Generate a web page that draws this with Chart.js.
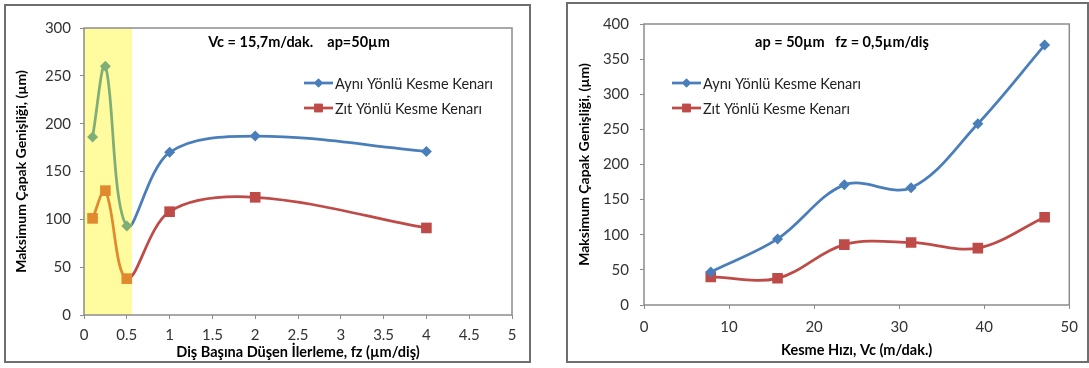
<!DOCTYPE html>
<html>
<head>
<meta charset="utf-8">
<script src="https://cdn.jsdelivr.net/npm/chart.js@4.4.1/dist/chart.umd.min.js"></script>
<style>
body{margin:0;background:#fff;width:1089px;height:368px;overflow:hidden;position:relative;font-family:Lato,sans-serif}
.frame{position:absolute;border:2px solid #6e6e6e;box-sizing:border-box;background:#fff}
#frame-feed{left:4px;top:4px;width:527px;height:359px}
#frame-speed{left:566px;top:2px;width:523px;height:361px}
canvas{display:block}
</style>
</head>
<body>
<div class="frame" id="frame-feed"><canvas id="feed-chart" width="523" height="355"></canvas></div>
<div class="frame" id="frame-speed"><canvas id="speed-chart" width="519" height="357"></canvas></div>
<script>
// left chart: fz (feed per tooth)
const feedRates = [0.1, 0.25, 0.5, 1, 2, 4]
const feedSame = [186, 260, 93, 170, 187, 171]
const feedOpp = [101, 130, 38, 108, 123, 91]
const feedTicksX = [0, 0.5, 1, 1.5, 2, 2.5, 3, 3.5, 4, 4.5, 5]
const feedTicksY = [0, 50, 100, 150, 200, 250, 300]
const feedBandEnd = 0.56

// right chart: Vc (cutting speed)
const speeds = [7.85, 15.7, 23.55, 31.4, 39.25, 47.1]
const speedSame = [47, 94, 171, 167, 258, 370]
const speedOpp = [40, 38, 86, 89, 81, 125]
const speedTicksX = [0, 10, 20, 30, 40, 50]
const speedTicksY = [0, 50, 100, 150, 200, 250, 300, 350, 400]

const seriesLabels = ['Aynı Yönlü Kesme Kenarı', 'Zıt Yönlü Kesme Kenarı']
const yTitle = 'Maksimum Çapak Genişliği, (µm)'

const BLUE = '#4a7ebb'
const RED = '#be4b48'
const GREEN = '#7fae77'
const ORANGE = '#e0892e'
const BAND = '#fffb9e'

function toPoints(xs, ys){
    return xs.map((x, i) => ({x: x, y: ys[i]}))
}

// line colour switches inside the yellow band
function bandLine(inside, outside){
    return function(ctx){
        const chart = ctx.chart
        const area = chart.chartArea
        const end = chart.options.plugins.band.to
        if(!area || end == null) return outside
        const px = chart.scales.x.getPixelForValue(end)
        let f = (px - area.left) / (area.right - area.left)
        f = Math.min(Math.max(f, 0), 1)
        const g = chart.ctx.createLinearGradient(area.left, 0, area.right, 0)
        g.addColorStop(0, inside)
        g.addColorStop(f, inside)
        g.addColorStop(f, outside)
        g.addColorStop(1, outside)
        return g
    }
}

function bandPoint(inside, outside){
    return function(ctx){
        const end = ctx.chart.options.plugins.band.to
        if(end != null && ctx.parsed && ctx.parsed.x < end) return inside
        return outside
    }
}

const bandPlugin = {
    id: 'band',
    beforeDatasetsDraw(chart, args, opts){
        const area = chart.chartArea
        const c = chart.ctx
        c.save()
        if(opts.to != null){
            const x0 = chart.scales.x.getPixelForValue(0)
            const x1 = chart.scales.x.getPixelForValue(opts.to)
            c.fillStyle = BAND
            c.fillRect(x0, area.top, x1 - x0, area.bottom - area.top)
        }
        c.strokeStyle = '#8c8c8c'
        c.lineWidth = 1.5
        c.strokeRect(area.left, area.top, area.right - area.left, area.bottom - area.top)
        c.restore()
    }
}

const notePlugin = {
    id: 'note',
    afterDraw(chart, args, opts){
        const c = chart.ctx
        c.save()
        c.font = 'bold 14.5px Lato, sans-serif'
        c.fillStyle = '#000'
        c.textAlign = 'center'
        c.textBaseline = 'middle'
        c.fillText(opts.text, opts.x, opts.y)

        // legend drawn inside the plot
        c.font = '14.5px Lato, sans-serif'
        c.textAlign = 'left'
        const items = [
            {color: BLUE, style: 'rectRot', r: 4.5},
            {color: RED, style: 'rect', r: 6}
        ]
        items.forEach((it, i) => {
            const y = opts.legendY + i * opts.legendGap
            c.strokeStyle = it.color
            c.lineWidth = 2.75
            c.beginPath()
            c.moveTo(opts.legendX, y)
            c.lineTo(opts.legendX + 29, y)
            c.stroke()
            c.fillStyle = it.color
            Chart.helpers.drawPoint(c, {pointStyle: it.style, radius: it.r, borderWidth: 0}, opts.legendX + 14.5, y)
            c.fill()
            c.fillStyle = '#222'
            c.fillText(seriesLabels[i], opts.legendX + 31, y + 1)
        })
        c.restore()
    }
}

function makeChart(canvas, xs, same, opp, cfg){
    return new Chart(canvas, {
        type: 'scatter',
        data: {
            datasets: [
                {
                    label: seriesLabels[0],
                    data: toPoints(xs, same),
                    showLine: true,
                    tension: 0.35,
                    borderWidth: 2.75,
                    borderColor: bandLine(GREEN, BLUE),
                    pointStyle: 'rectRot',
                    pointRadius: 5.5,
                    pointBorderWidth: 0,
                    pointBackgroundColor: bandPoint(GREEN, BLUE),
                    pointBorderColor: bandPoint(GREEN, BLUE)
                },
                {
                    label: seriesLabels[1],
                    data: toPoints(xs, opp),
                    showLine: true,
                    tension: 0.35,
                    borderWidth: 2.75,
                    borderColor: bandLine(ORANGE, RED),
                    pointStyle: 'rect',
                    pointRadius: 7.5,
                    pointBorderWidth: 0,
                    pointBackgroundColor: bandPoint(ORANGE, RED),
                    pointBorderColor: bandPoint(ORANGE, RED)
                }
            ]
        },
        options: {
            responsive: false,
            animation: false,
            events: [],
            layout: {padding: {top: cfg.top, right: cfg.right, left: 0, bottom: 0}},
            plugins: {
                legend: {display: false},
                tooltip: {enabled: false},
                band: {to: cfg.band},
                note: cfg.note
            },
            scales: {
                x: {
                    type: 'linear',
                    min: cfg.ticksX[0],
                    max: cfg.ticksX[cfg.ticksX.length - 1],
                    afterBuildTicks: s => { s.ticks = cfg.ticksX.map(v => ({value: v})) },
                    afterFit: s => { s.height = cfg.xHeight },
                    border: {display: false},
                    grid: {drawOnChartArea: false, drawTicks: true, tickLength: 4, color: '#8c8c8c'},
                    ticks: {
                        padding: cfg.xPad,
                        color: '#333',
                        font: {family: 'Lato', size: 15},
                        maxRotation: 0,
                        autoSkip: false,
                        callback: v => String(v)
                    },
                    title: {
                        display: true,
                        text: cfg.xTitle,
                        color: '#000',
                        font: {family: 'Lato', size: 14.5, weight: 'bold'},
                        padding: {top: 0, bottom: cfg.xTitlePad}
                    }
                },
                y: {
                    type: 'linear',
                    min: 0,
                    max: cfg.ticksY[cfg.ticksY.length - 1],
                    afterBuildTicks: s => { s.ticks = cfg.ticksY.map(v => ({value: v})) },
                    afterFit: s => { s.width = cfg.yWidth },
                    border: {display: false},
                    grid: {drawOnChartArea: false, drawTicks: true, tickLength: 4, color: '#8c8c8c'},
                    ticks: {
                        padding: cfg.yPad,
                        color: '#333',
                        font: {family: 'Lato', size: 15},
                        callback: v => String(v)
                    },
                    title: {
                        display: true,
                        text: yTitle,
                        color: '#000',
                        font: {family: 'Lato', size: 14, weight: 'bold'},
                        padding: {top: cfg.yTitlePad, bottom: 0}
                    }
                }
            }
        },
        plugins: [bandPlugin, notePlugin]
    })
}

const feedChart = makeChart(document.getElementById('feed-chart'), feedRates, feedSame, feedOpp, {
    top: 22, right: 17, xHeight: 46, yWidth: 78, xPad: 7, yPad: 9, xTitlePad: 0, yTitlePad: 7,
    ticksX: feedTicksX, ticksY: feedTicksY, band: feedBandEnd,
    xTitle: 'Diş Başına Düşen İlerleme, fz (µm/diş)',
    note: {text: 'Vc = 15,7m/dak.    ap=50µm', x: 293, y: 36, legendX: 298, legendY: 77, legendGap: 25}
})

const speedChart = makeChart(document.getElementById('speed-chart'), speeds, speedSame, speedOpp, {
    top: 11, right: 13, xHeight: 56, yWidth: 76, xPad: 9, yPad: 11, xTitlePad: 2, yTitlePad: 8,
    ticksX: speedTicksX, ticksY: speedTicksY, band: null,
    xTitle: 'Kesme Hızı, Vc (m/dak.)',
    note: {text: 'ap = 50µm   fz = 0,5µm/diş', x: 274, y: 38, legendX: 104, legendY: 79, legendGap: 25}
})
</script>
</body>
</html>
